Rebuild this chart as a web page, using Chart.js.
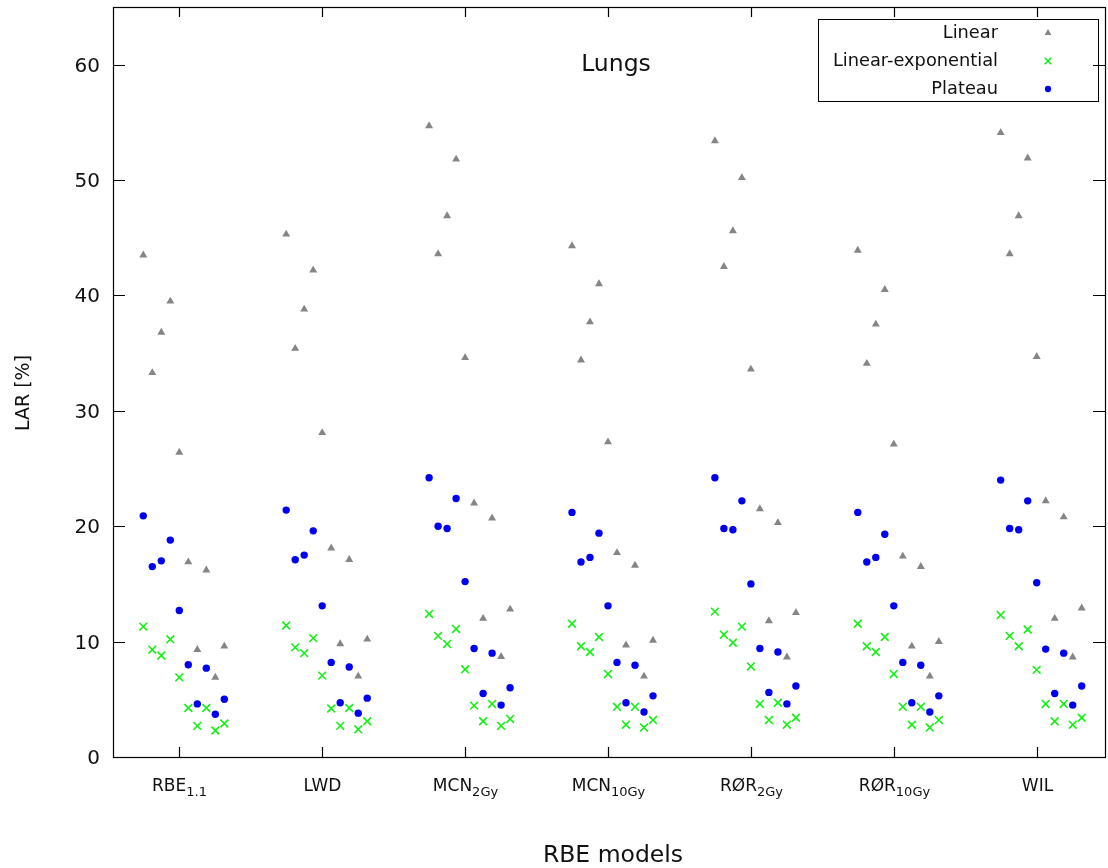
<!DOCTYPE html>
<html><head><meta charset="utf-8">
<script src="https://cdn.jsdelivr.net/npm/chart.js@4/dist/chart.umd.min.js"></script>
<style>html,body{margin:0;padding:0;background:#fff}#wrap{width:1108px;height:868px}</style>
</head><body><div id="wrap"><canvas id="c" width="1108" height="868"></canvas></div>
<script>
// Categories (RBE models): base text + subscript
const categoryBase = ['RBE', 'LWD', 'MCN', 'MCN', 'RØR', 'RØR', 'WIL'];
const categorySub  = ['1.1', '',    '2Gy', '10Gy', '2Gy', '10Gy', ''];
const seriesNames = ['Linear', 'Linear-exponential', 'Plateau'];
const yTicks = [0, 10, 20, 30, 40, 50, 60];

// LAR [%] values, one row of 10 scenarios per RBE model
const linear = [
  [43.5, 33.3, 36.8, 39.5, 26.4, 16.9, 9.3, 16.2, 6.9, 9.6],
  [45.3, 35.4, 38.8, 42.2, 28.1, 18.1, 9.8, 17.1, 7.0, 10.2],
  [54.7, 43.6, 46.9, 51.8, 34.6, 22.0, 12.0, 20.7, 8.7, 12.8],
  [44.3, 34.4, 37.7, 41.0, 27.3, 17.7, 9.7, 16.6, 7.0, 10.1],
  [53.4, 42.5, 45.6, 50.2, 33.6, 21.5, 11.8, 20.3, 8.65, 12.5],
  [43.9, 34.1, 37.5, 40.5, 27.1, 17.4, 9.6, 16.5, 7.0, 10.0],
  [54.1, 43.6, 46.9, 51.9, 34.7, 22.2, 12.0, 20.8, 8.65, 12.9]
];
const linearExponential = [
  [11.3, 9.3, 8.8, 10.2, 6.9, 4.25, 2.7, 4.25, 2.3, 2.9],
  [11.4, 9.5, 9.0, 10.3, 7.05, 4.2, 2.7, 4.25, 2.4, 3.1],
  [12.4, 10.5, 9.8, 11.1, 7.6, 4.45, 3.1, 4.6, 2.7, 3.3],
  [11.55, 9.6, 9.1, 10.4, 7.2, 4.35, 2.8, 4.35, 2.55, 3.2],
  [12.6, 10.6, 9.9, 11.3, 7.85, 4.6, 3.2, 4.7, 2.8, 3.4],
  [11.55, 9.6, 9.1, 10.4, 7.2, 4.35, 2.8, 4.35, 2.55, 3.2],
  [12.3, 10.5, 9.6, 11.05, 7.55, 4.6, 3.1, 4.6, 2.8, 3.4]
];
const plateau = [
  [20.9, 16.5, 17.0, 18.8, 12.7, 8.0, 4.6, 7.7, 3.7, 5.0],
  [21.4, 17.1, 17.5, 19.6, 13.1, 8.2, 4.7, 7.8, 3.8, 5.1],
  [24.2, 20.0, 19.8, 22.4, 15.2, 9.4, 5.5, 9.0, 4.5, 6.0],
  [21.2, 16.9, 17.3, 19.4, 13.1, 8.2, 4.7, 7.95, 3.9, 5.3],
  [24.2, 19.8, 19.7, 22.2, 15.0, 9.4, 5.6, 9.1, 4.6, 6.15],
  [21.2, 16.9, 17.3, 19.3, 13.1, 8.2, 4.7, 7.95, 3.9, 5.3],
  [24.0, 19.8, 19.7, 22.2, 15.1, 9.35, 5.5, 9.0, 4.5, 6.15]
];

const FONT = '"DejaVu Sans", sans-serif';
const STEP = 0.063; // horizontal spread between scenarios within a category

function toPoints(rows) {
  const pts = [];
  rows.forEach((row, c) => row.forEach((v, i) => pts.push({ x: c + 1 + (i - 4) * STEP, y: v })));
  return pts;
}

const styles = [
  { pointStyle: 'triangle', radius: 4.6, color: '#858585', bw: 0 },
  { pointStyle: 'crossRot', radius: 5.5, color: '#14f014', bw: 1.6 },
  { pointStyle: 'circle', radius: 3.7, color: '#0000f0', bw: 0 }
];

const datasets = [linear, linearExponential, plateau].map((rows, k) => ({
  label: seriesNames[k],
  data: toPoints(rows),
  pointStyle: styles[k].pointStyle,
  pointRadius: styles[k].radius,
  pointBackgroundColor: styles[k].color,
  pointBorderColor: styles[k].color,
  pointBorderWidth: styles[k].bw,
  showLine: false
}));

const decor = {
  id: 'decor',
  afterDraw(chart) {
    const { ctx, chartArea: a, scales } = chart;
    const xs = scales.x, ys = scales.y;
    ctx.save();
    ctx.strokeStyle = '#000';
    ctx.lineWidth = 1.2;
    ctx.strokeRect(a.left + 0.5, a.top + 0.5, a.right - a.left, a.bottom - a.top);
    ctx.fillStyle = '#111';
    // y ticks + labels
    ctx.font = '20px ' + FONT;
    ctx.textAlign = 'right';
    ctx.textBaseline = 'middle';
    yTicks.forEach(v => {
      const y = Math.round(ys.getPixelForValue(v)) + 0.5;
      ctx.beginPath();
      ctx.moveTo(a.left, y); ctx.lineTo(a.left + 12, y);
      ctx.moveTo(a.right, y); ctx.lineTo(a.right - 12, y);
      ctx.stroke();
      ctx.fillText(String(v), a.left - 13, y + 1);
    });
    // x ticks + category labels
    categoryBase.forEach((base, i) => {
      const x = Math.round(xs.getPixelForValue(i + 1)) + 0.5;
      ctx.beginPath();
      ctx.moveTo(x, a.bottom); ctx.lineTo(x, a.bottom - 10);
      ctx.moveTo(x, a.top); ctx.lineTo(x, a.top + 10);
      ctx.stroke();
      const sub = categorySub[i];
      ctx.font = '17px ' + FONT;
      const wb = ctx.measureText(base).width;
      ctx.font = '13px ' + FONT;
      const ws = sub ? ctx.measureText(sub).width : 0;
      const x0 = x - (wb + ws) / 2;
      ctx.textAlign = 'left';
      ctx.textBaseline = 'alphabetic';
      ctx.font = '17px ' + FONT;
      ctx.fillText(base, x0, 791);
      if (sub) { ctx.font = '13px ' + FONT; ctx.fillText(sub, x0 + wb, 796); }
    });
    // axis titles
    ctx.textAlign = 'center';
    ctx.textBaseline = 'middle';
    ctx.font = '23.5px ' + FONT;
    ctx.fillText('RBE models', 613, 856);
    ctx.fillText('Lungs', 616, 65);
    ctx.save();
    ctx.translate(24, 393);
    ctx.rotate(-Math.PI / 2);
    ctx.font = '19px ' + FONT;
    ctx.fillText('LAR [%]', 0, 0);
    ctx.restore();
    // legend
    ctx.lineWidth = 1;
    ctx.strokeStyle = '#000';
    ctx.strokeRect(818.5, 19.5, 280, 82);
    ctx.font = '17.8px ' + FONT;
    ctx.textAlign = 'right';
    const rows = [33, 61, 89];
    seriesNames.forEach((n, k) => {
      ctx.fillStyle = '#111';
      ctx.fillText(n, 998, rows[k]);
      ctx.fillStyle = styles[k].color;
      ctx.strokeStyle = styles[k].color;
      ctx.lineWidth = styles[k].bw || 1;
      Chart.helpers.drawPoint(ctx, { pointStyle: styles[k].pointStyle, radius: styles[k].radius * 0.85, borderWidth: styles[k].bw }, 1048, rows[k]);
    });
    ctx.restore();
  }
};

new Chart(document.getElementById('c'), {
  type: 'scatter',
  data: { datasets },
  options: {
    responsive: false,
    animation: false,
    devicePixelRatio: 1,
    layout: { autoPadding: false, padding: { left: 113, top: 7, right: 3, bottom: 111 } },
    plugins: { legend: { display: false }, tooltip: { enabled: false } },
    scales: {
      x: { type: 'linear', min: 0.536, max: 7.478, display: false },
      y: { type: 'linear', min: 0, max: 65, display: false }
    }
  },
  plugins: [decor]
});
</script></body></html>
